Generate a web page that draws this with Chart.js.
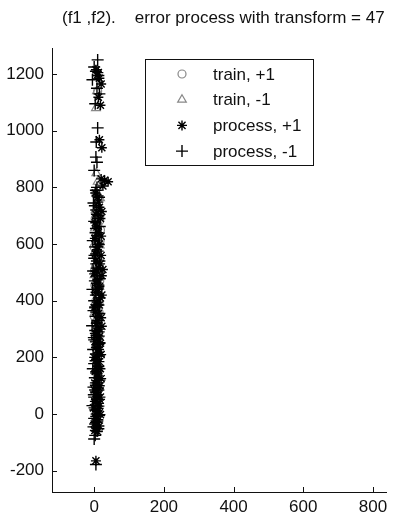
<!DOCTYPE html>
<html>
<head>
<meta charset="utf-8">
<script src="https://cdn.jsdelivr.net/npm/chart.js@4/dist/chart.umd.min.js"></script>
<style>
  html, body { margin: 0; padding: 0; background: #fff; }
  #wrap { width: 394px; height: 517px; }
</style>
</head>
<body>
<div id="wrap"><canvas id="c" width="394" height="517"></canvas></div>
<script>
// Feature pair (f1, f2) for training samples and processed samples, by class.
const trainPlusX  = [10, 5, 12, 8, 15, 3, 10, 18, 6, 12, 0, 9, 15, 4, 11, 7, 16, 2, 10, 13, 5, 8, 14, 0, 9, 6, 12, 3, 10, 7, 17, 1, 14, 6, 16];
const trainPlusY  = [1140, 780, 760, 730, 705, 690, 670, 650, 630, 610, 590, 565, 545, 520, 500, 480, 470, 455, 440, 420, 400, 380, 360, 345, 330, 310, 290, 275, 255, 240, 612, 505, 392, 322, 682];

const trainMinusX = [8, 5, 6, 10, 8, 4, 14, 9, 2, 12, 7, 16, 3, 10, 6, 13, 1, 9, 15, 5, 11, 3, 8, 12, 4, 10, 6, 14, 2, 17, 0, 15, 7];
const trainMinusY = [1140, 1080, 850, 820, 745, 720, 700, 680, 655, 635, 615, 595, 575, 555, 530, 510, 490, 468, 450, 432, 412, 395, 370, 350, 330, 315, 295, 280, 265, 762, 598, 462, 305];

const procPlusX   = [5, 12, 15, 20, 12, 18, 15, 22, 20, 30, 40, 25, 10, 15, 5, 18, 8, 12, 2, 15, 8, 20, 5, 12, 25, 0, 10, 15, 4, 18, 8, 0, 12, 20, 6, 14, 2, 10, 18, 5, 12, 0, 15, 8, 3, 12, 6, 16, 0, 10, 5, 14, -2, 8, 3, 12, 0, 6, 10, 5,
                     8, 3, 12, 22, 3, 20, 10, 3, 17, 7, 22, 5, 12, 22, 15, 3, 10, 22, 8, 16, 2, 14, 20, 6, 18, 10, 20, 2, 14, 8, 18, 2, 15, 10, 18, 4, 15, 2];
const procPlusY   = [1215, 1205, 1185, 1165, 1118, 1090, 968, 940, 830, 825, 820, 805, 765, 730, 705, 690, 660, 640, 620, 600, 580, 560, 540, 515, 510, 495, 475, 450, 430, 410, 395, 375, 355, 340, 320, 300, 285, 265, 250, 235, 218, 200, 185, 170, 150, 135, 118, 100, 85, 68, 52, 38, 22, 8, -8, -20, -35, -50, -62, -165,
                     1195, 780, 748, 715, 675, 628, 590, 565, 530, 505, 488, 462, 440, 420, 385, 360, 330, 310, 292, 275, 255, 228, 210, 192, 160, 142, 125, 110, 92, 75, 60, 45, 28, 12, -2, -15, -42, -58];

const procMinusX  = [10, 0, 5, 12, -5, 8, 15, 3, 10, 6, 5, 8, 0, 8, 5, 10, -2, 6, 12, 0, 5, 8, -4, 3, 10, 0, 6, -3, 8, 2, 12, -5, 5, 0, 9, -2, 4, 10, -6, 3, 7, 0, 12, -3, 5, 9, 0, -4, 6, 2, 10, -2, 5, 0, 8, -5, 3, 7, 0, 5, -2, 8, 3, 5,
                     14, 2, 11, 16, 4, 13, 1, 15, 7, 16, 10, 14, 3, 15, 8, 13, -1, 15, 8, 14, 4, 12, 8, 15, 5, 12, -1, 14, 10, 14, 9, 12, 0];
const procMinusY  = [1250, 1225, 1210, 1195, 1180, 1150, 1130, 1095, 1010, 960, 907, 889, 860, 800, 790, 770, 745, 720, 700, 680, 655, 630, 612, 590, 575, 550, 530, 505, 488, 470, 455, 440, 420, 400, 385, 365, 345, 330, 312, 295, 278, 262, 245, 228, 212, 195, 178, 160, 145, 128, 110, 95, 78, 60, 45, 30, 15, 0, -15, -30, -45, -60, -75, -178,
                     765, 735, 690, 662, 640, 598, 560, 540, 515, 478, 445, 410, 378, 355, 322, 290, 270, 252, 235, 205, 188, 168, 152, 120, 102, 85, 68, 52, 20, -5, -25, -52, -88];

const seriesLabels = ['train, +1', 'train, -1', 'process, +1', 'process, -1'];
const xTickValues = [0, 200, 400, 600, 800];
const yTickValues = [-200, 0, 200, 400, 600, 800, 1000, 1200];
const titleText = '(f1 ,f2).    error process with transform = 47';

const FONT = '"Liberation Sans", Arial, Helvetica, sans-serif';
const INK = '#111';
const GRAY = '#888';

function pts(xs, ys) { return xs.map((x, i) => ({ x: x, y: ys[i] })); }

// Title, inward tick marks and the boxed legend are drawn here.
const decor = {
  id: 'decor',
  afterDraw(chart) {
    const ctx = chart.ctx;
    const area = chart.chartArea;
    ctx.save();

    // title, roughly centred over the plotting area
    ctx.fillStyle = INK;
    ctx.font = '17px ' + FONT;
    ctx.textAlign = 'center';
    ctx.textBaseline = 'middle';
    ctx.fillText(titleText, (area.left + area.right) / 2 + 4, 18);

    // tick marks pointing into the axes
    ctx.strokeStyle = INK;
    ctx.lineWidth = 1;
    const xs = chart.scales.x, ys = chart.scales.y;
    ctx.beginPath();
    xs.ticks.forEach(t => {
      const px = Math.round(xs.getPixelForValue(t.value)) + 0.5;
      ctx.moveTo(px, area.bottom);
      ctx.lineTo(px, area.bottom - 5);
    });
    ys.ticks.forEach(t => {
      const py = Math.round(ys.getPixelForValue(t.value)) + 0.5;
      ctx.moveTo(area.left, py);
      ctx.lineTo(area.left + 5, py);
    });
    ctx.stroke();

    // legend box
    const lx = 145.5, ly = 59.5, lw = 168, lh = 106;
    ctx.fillStyle = '#fff';
    ctx.fillRect(lx, ly, lw, lh);
    ctx.strokeStyle = INK;
    ctx.strokeRect(lx, ly, lw, lh);
    ctx.textAlign = 'left';
    ctx.textBaseline = 'middle';
    ctx.font = '17px ' + FONT;
    chart.data.datasets.forEach((ds, i) => {
      const cy = 74 + i * 25.7;
      ctx.strokeStyle = ds.borderColor;
      ctx.fillStyle = 'rgba(0,0,0,0)';
      ctx.lineWidth = ds.borderWidth;
      Chart.helpers.drawPoint(ctx, {
        pointStyle: ds.pointStyle,
        radius: ds.legendRadius,
        rotation: 0,
        borderWidth: ds.borderWidth
      }, 182, cy);
      ctx.fillStyle = INK;
      ctx.fillText(ds.label, 213, cy + 1);
    });
    ctx.restore();
  }
};

new Chart(document.getElementById('c'), {
  type: 'scatter',
  data: {
    datasets: [
      { label: seriesLabels[0], data: pts(trainPlusX, trainPlusY), pointStyle: 'circle', radius: 4, legendRadius: 4,
        borderColor: GRAY, backgroundColor: 'rgba(0,0,0,0)', borderWidth: 1.2, order: 4 },
      { label: seriesLabels[1], data: pts(trainMinusX, trainMinusY), pointStyle: 'triangle', radius: 5, legendRadius: 5,
        borderColor: GRAY, backgroundColor: 'rgba(0,0,0,0)', borderWidth: 1.2, order: 3 },
      { label: seriesLabels[2], data: pts(procPlusX, procPlusY), pointStyle: 'star', radius: 5, legendRadius: 5,
        borderColor: '#000', backgroundColor: 'rgba(0,0,0,0)', borderWidth: 1.4, order: 2 },
      { label: seriesLabels[3], data: pts(procMinusX, procMinusY), pointStyle: 'cross', radius: 6, legendRadius: 6,
        borderColor: '#000', backgroundColor: 'rgba(0,0,0,0)', borderWidth: 1.4, order: 1 }
    ]
  },
  options: {
    responsive: false,
    animation: false,
    events: [],
    layout: { padding: { top: 48, right: 0, bottom: 0, left: 0 } },
    plugins: { legend: { display: false }, title: { display: false }, tooltip: { enabled: false } },
    elements: { point: { hoverRadius: 0 } },
    scales: {
      x: {
        type: 'linear', min: -121, max: 839,
        afterBuildTicks: s => { s.ticks = xTickValues.map(v => ({ value: v })); },
        afterFit: s => { s.height = 25; },
        grid: { display: false, drawTicks: false },
        border: { display: true, color: INK, width: 1 },
        ticks: { color: INK, padding: 5, maxRotation: 0, callback: v => String(v), font: { family: FONT, size: 17 } }
      },
      y: {
        type: 'linear', min: -275, max: 1292,
        afterBuildTicks: s => { s.ticks = yTickValues.map(v => ({ value: v })); },
        afterFit: s => { s.width = 52; },
        grid: { display: false, drawTicks: false },
        border: { display: true, color: INK, width: 1 },
        ticks: { color: INK, padding: 8, callback: v => String(v), font: { family: FONT, size: 17 } }
      }
    }
  },
  plugins: [decor]
});
</script>
</body>
</html>
